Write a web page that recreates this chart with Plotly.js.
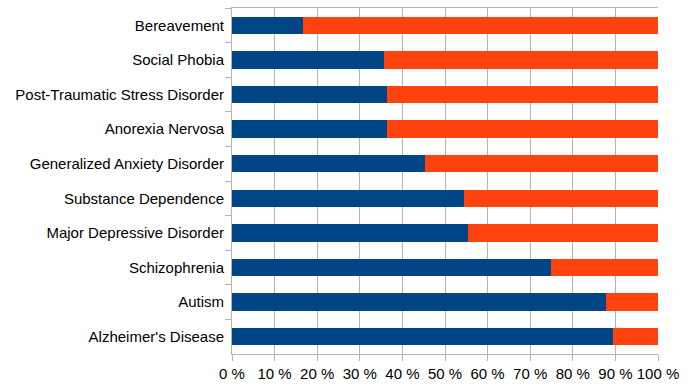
<!DOCTYPE html>
<html>
<head>
<meta charset="utf-8">
<script src="https://cdn.plot.ly/plotly-3.0.1.min.js"></script>
<style>html,body{margin:0;padding:0;background:#fff;}#chart{width:693px;height:390px;}</style>
</head>
<body>
<div id="chart"></div>
<script>
const categories = ["Bereavement", "Social Phobia", "Post-Traumatic Stress Disorder", "Anorexia Nervosa", "Generalized Anxiety Disorder", "Substance Dependence", "Major Depressive Disorder", "Schizophrenia", "Autism", "Alzheimer's Disease"];
const seriesA = [16.6, 35.7, 36.5, 36.3, 45.4, 54.4, 55.5, 74.9, 87.7, 89.4];
const seriesB = [83.4, 64.3, 63.5, 63.7, 54.6, 45.6, 44.5, 25.1, 12.3, 10.6];
const xTickVals = [0, 10, 20, 30, 40, 50, 60, 70, 80, 90, 100];
const xTickText = ["0 %", "10 %", "20 %", "30 %", "40 %", "50 %", "60 %", "70 %", "80 %", "90 %", "100 %"];

const traces = [
  {type: "bar", orientation: "h", y: categories, x: seriesA, marker: {color: "#004586", line: {width: 0}}, hoverinfo: "none"},
  {type: "bar", orientation: "h", y: categories, x: seriesB, marker: {color: "#ff420e", line: {width: 0}}, hoverinfo: "none"}
];

const layout = {
  width: 693, height: 390,
  margin: {l: 232, r: 35, t: 8, b: 36, pad: 0},
  barmode: "stack",
  bargap: 0.5,
  showlegend: false,
  paper_bgcolor: "#ffffff",
  plot_bgcolor: "#ffffff",
  font: {family: "Liberation Sans, Arial, sans-serif", size: 15, color: "#000000"},
  xaxis: {
    range: [0, 100], tickvals: xTickVals, ticktext: xTickText,
    showgrid: true, gridcolor: "#b3b3b3", gridwidth: 1,
    showline: true, linecolor: "#b3b3b3", linewidth: 1, mirror: true,
    ticks: "outside", ticklen: 6, tickcolor: "#b3b3b3", tickwidth: 1,
    zeroline: false, fixedrange: true,
    tickfont: {size: 15, color: "#000000"}
  },
  yaxis: {
    autorange: "reversed", type: "category",
    tickson: "boundaries",
    showgrid: false,
    showline: true, linecolor: "#b3b3b3", linewidth: 1,
    ticks: "outside", ticklen: 6, tickcolor: "#b3b3b3",
    ticklabelstandoff: 4,
    zeroline: false, fixedrange: true,
    tickfont: {size: 15, color: "#000000"}
  }
};

Plotly.newPlot("chart", traces, layout, {staticPlot: true, displayModeBar: false});
</script>
</body>
</html>
